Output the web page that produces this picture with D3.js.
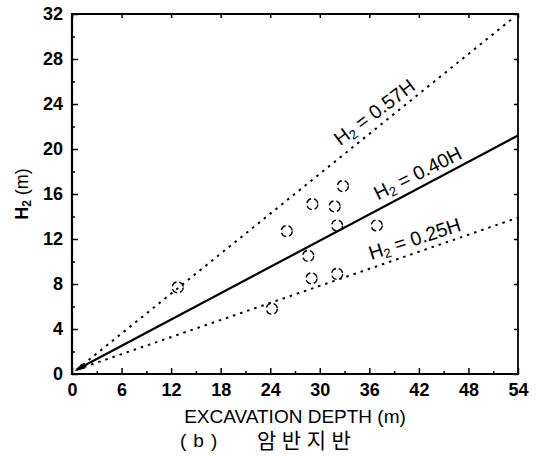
<!DOCTYPE html>
<html><head><meta charset="utf-8">
<script src="https://cdn.jsdelivr.net/npm/d3@7"></script>
<style>body{margin:0;background:#fff}svg{display:block}</style>
</head><body>
<svg id="c" width="536" height="456"></svg>
<script>
// ---- data ----
const xTicks = [0, 6, 12, 18, 24, 30, 36, 42, 48, 54];
const yTicks = [0, 4, 8, 12, 16, 20, 24, 28, 32];
const pointsX = [12.8, 24.2, 26.0, 28.6, 29.0, 29.1, 31.8, 32.1, 32.1, 32.8, 36.9];
const pointsY = [7.7, 5.8, 12.7, 10.5, 8.5, 15.1, 14.9, 13.2, 8.9, 16.7, 13.2];
const lineNames = ["0.57H", "0.40H", "0.25H"];
const lineStartX = [0.6, 0.6, 0.6];
const lineStartY = [0.4, 0.4, 0.4];
const lineEndX = [53.5, 54, 54];
const lineEndY = [31.7, 21.2, 13.9];
const lineDashed = [true, false, true];
const labelAtX = [37.6, 42.6, 42.0];

// ---- layout ----
const svg = d3.select("#c");
const x = d3.scaleLinear().domain([0, 54]).range([72, 518]);
const y = d3.scaleLinear().domain([0, 32]).range([374, 14]);
const font = "'Liberation Sans', Arial, sans-serif";

// minor ticks
const minorX = d3.range(3, 54, 6);
const minorY = d3.range(2, 32, 4);

function styleAxis(g) {
  g.select(".domain").remove();
  g.selectAll("line").attr("stroke", "#000").attr("stroke-width", 1.5);
  g.selectAll("text").attr("font-family", font).attr("font-size", 18)
    .attr("font-weight", "bold").attr("fill", "#000");
}

svg.append("g").attr("transform", "translate(0,374)")
  .call(d3.axisBottom(x).tickValues(xTicks).tickSizeInner(-6).tickSizeOuter(0).tickPadding(9))
  .call(styleAxis);
svg.append("g").attr("transform", "translate(72,0)")
  .call(d3.axisLeft(y).tickValues(yTicks).tickSizeInner(-6).tickSizeOuter(0).tickPadding(9))
  .call(styleAxis);
svg.append("g").attr("transform", "translate(0,374)")
  .call(d3.axisBottom(x).tickValues(minorX).tickSizeInner(-3).tickSizeOuter(0).tickFormat(""))
  .call(styleAxis);
svg.append("g").attr("transform", "translate(72,0)")
  .call(d3.axisLeft(y).tickValues(minorY).tickSizeInner(-3).tickSizeOuter(0).tickFormat(""))
  .call(styleAxis);
// right & top ticks
svg.append("g").attr("transform", "translate(518,0)")
  .call(d3.axisRight(y).tickValues(yTicks).tickSizeInner(-4).tickSizeOuter(0).tickFormat(""))
  .call(styleAxis);
svg.append("g").attr("transform", "translate(0,14)")
  .call(d3.axisTop(x).tickValues(xTicks).tickSizeInner(-4).tickSizeOuter(0).tickFormat(""))
  .call(styleAxis);

// frame
svg.append("line").attr("x1", 72).attr("x2", 72).attr("y1", 13).attr("y2", 375).attr("stroke", "#000").attr("stroke-width", 2.2);
svg.append("line").attr("x1", 71).attr("x2", 519).attr("y1", 374).attr("y2", 374).attr("stroke", "#000").attr("stroke-width", 2.2);
svg.append("line").attr("x1", 518).attr("x2", 518).attr("y1", 13).attr("y2", 375).attr("stroke", "#000").attr("stroke-width", 1.8);
svg.append("line").attr("x1", 71).attr("x2", 519).attr("y1", 14).attr("y2", 14).attr("stroke", "#000").attr("stroke-width", 1.8);

// reference lines
lineNames.forEach((nm, i) => {
  svg.append("line")
    .attr("x1", x(lineStartX[i])).attr("y1", y(lineStartY[i]))
    .attr("x2", x(lineEndX[i])).attr("y2", y(lineEndY[i]))
    .attr("stroke", "#000")
    .attr("stroke-width", lineDashed[i] ? 2 : 2.2)
    .attr("stroke-dasharray", lineDashed[i] ? "2.5,5" : null);
  const px1 = x(lineStartX[i]), py1 = y(lineStartY[i]);
  const px2 = x(lineEndX[i]), py2 = y(lineEndY[i]);
  const ang = Math.atan2(py2 - py1, px2 - px1) * 180 / Math.PI;
  const lx = x(labelAtX[i]);
  const ly = py1 + (lx - px1) * (py2 - py1) / (px2 - px1);
  const t = svg.append("text")
    .attr("transform", `translate(${lx},${ly}) rotate(${ang * 0.95}) translate(0,-7)`)
    .attr("text-anchor", "middle")
    .attr("font-family", font).attr("font-size", 19.5).attr("fill", "#000");
  t.append("tspan").text("H");
  t.append("tspan").attr("font-size", 13).attr("dy", 3).text("2");
  t.append("tspan").attr("dy", -3).text(" = " + nm);
});

// small arrowhead at origin
svg.append("path")
  .attr("d", d3.line()([[x(0.3), y(0.25)], [x(1.6), y(0.5)], [x(1.2), y(0.95)]]))
  .attr("fill", "#000");

// data points
svg.append("g").selectAll("circle").data(pointsX).join("circle")
  .attr("cx", (d) => x(d)).attr("cy", (d, i) => y(pointsY[i]))
  .attr("r", 5.5).attr("fill", "none").attr("stroke", "#000")
  .attr("stroke-width", 1.3).attr("stroke-dasharray", "6,3");

// axis titles
const yl = svg.append("text")
  .attr("transform", "translate(28,194) rotate(-90)")
  .attr("text-anchor", "middle").attr("font-family", font).attr("font-size", 18)
  .attr("font-weight", "bold").attr("fill", "#000");
yl.append("tspan").text("H");
yl.append("tspan").attr("font-size", 12).attr("dy", 3).text("2");
yl.append("tspan").attr("dy", -3).attr("font-weight", "normal").text(" (m)");

svg.append("text").attr("x", 295).attr("y", 423).attr("text-anchor", "middle")
  .attr("font-family", font).attr("font-size", 19).attr("fill", "#000")
  .text("EXCAVATION DEPTH (m)");
svg.append("text").attr("x", 180).attr("y", 447)
  .attr("font-family", font).attr("font-size", 19).attr("letter-spacing", 7).attr("fill", "#000")
  .text("(b)");
svg.append("text").attr("x", 257).attr("y", 448)
  .attr("font-family", "'Noto Sans CJK KR', sans-serif").attr("font-size", 21).attr("letter-spacing", 5.5).attr("fill", "#000")
  .text("암반지반");
</script>
</body></html>
